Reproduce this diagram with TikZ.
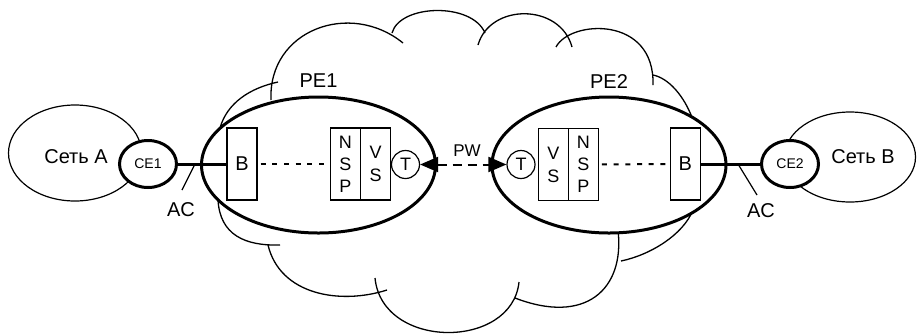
\documentclass[tikz,border=0pt]{standalone}
\usepackage{fontspec}
\setmainfont{Liberation Sans}
\usetikzlibrary{shapes.geometric,arrows.meta}
\begin{document}
\begin{tikzpicture}[x=1pt,y=-1pt,
  thinline/.style={line width=1.2pt},
  cloudline/.style={line width=1.3pt},
  netshape/.style={ellipse,draw,line width=1.2pt,inner sep=0pt},
  ceshape/.style={ellipse,draw,line width=3pt,fill=white,inner sep=0pt,minimum width=57pt,minimum height=47pt,font=\fontsize{14}{16}\selectfont},
  peshape/.style={ellipse,draw,line width=3pt,fill=white,inner sep=0pt,minimum width=234pt,minimum height=136pt},
  lbl/.style={inner sep=0pt,font=\fontsize{20}{24}\selectfont},
  unitbox/.style={rectangle,draw,line width=1.2pt,fill=white,inner sep=0pt,minimum width=30pt,minimum height=72pt,align=center,font=\fontsize{18}{22}\selectfont},
  tnode/.style={circle,draw,line width=1.2pt,fill=white,inner sep=0pt,minimum size=28pt,font=\fontsize{18}{20}\selectfont},
  thickconn/.style={line width=3pt},
  dotconn/.style={line width=2pt,dash pattern=on 5pt off 6.7pt,dash phase=-3pt},
  pwconn/.style={line width=2pt,dash pattern=on 9pt off 6pt,
    {Triangle[length=18pt,width=15pt]}-{Triangle[length=18pt,width=15pt]}}
]
\useasboundingbox (0,0) rectangle (917,333);

% cloud
\draw[cloudline]
  (220,128) .. controls (227,103) and (250,88) .. (278,82)
  (271,100) .. controls (268,30) and (350,0) .. (403,43)
  (392,33) .. controls (400,4) and (472,2) .. (485,33)
  (478,45) .. controls (490,3) and (560,3) .. (572,47)
  (556,47) .. controls (570,20) and (655,15) .. (653,85)
  (653,75) .. controls (668,78) and (684,95) .. (693,120)
  (693,210) .. controls (683,235) and (650,255) .. (621,261)
  (618,230) .. controls (625,290) and (585,325) .. (515,298)
  (519,282) .. controls (512,350) and (382,350) .. (375,278)
  (387,290) .. controls (340,305) and (280,295) .. (268,245)
  (280,245) .. controls (245,246) and (220,235) .. (218,200);

% customer networks
\node[netshape,minimum width=133pt,minimum height=96pt] (neta) at (75,153) {};
\node[lbl] (netalbl) at (76,157) {Сеть A};
\node[netshape,minimum width=131pt,minimum height=90pt] (netb) at (850,157) {};
\node[lbl] (netblbl) at (863,157) {Сеть B};

\node[ceshape] (ce1) at (148,164) {CE1};
\node[ceshape] (ce2) at (790,164) {CE2};

% provider edges
\node[peshape] (pe1) at (318.5,165) {};
\node[peshape] (pe2) at (609,165) {};
\node[lbl] (pe1lbl) at (318.5,81) {PE1};
\node[lbl] (pe2lbl) at (609,82) {PE2};

% inner units
\node[unitbox,font=\fontsize{20}{24}\selectfont] (b1) at (242,164) {B};
\node[unitbox] (nsp1) at (345.4,164) {N\\S\\P};
\node[unitbox,font=\fontsize{18}{23}\selectfont] (vs1) at (375.7,164) {V\\S};
\node[tnode] (t1) at (405.5,164.5) {T};

\node[tnode] (t2) at (521,164.5) {T};
\node[unitbox,font=\fontsize{18}{23}\selectfont] (vs2) at (553.3,164.5) {V\\S};
\node[unitbox] (nsp2) at (583.3,164.5) {N\\S\\P};
\node[unitbox,font=\fontsize{20}{24}\selectfont] (b2) at (685.3,164) {B};

% connectors
\draw[thickconn] (ce1) -- (b1);
\draw[thickconn] (b2) -- (ce2);
\draw[dotconn] (b1) -- (nsp1);
\draw[dotconn] (nsp2) -- (b2);
\draw[pwconn] (t1) -- (t2);
\node[inner sep=0pt,font=\fontsize{17}{20}\selectfont] (pwlbl) at (467,151) {PW};

% attachment circuits
\coordinate (ac1a) at (195,164);
\coordinate (ac1b) at (182,190);
\draw[thinline] (ac1a) -- (ac1b);
\node[lbl] (ac1lbl) at (181,210) {AC};
\coordinate (ac2a) at (738,164);
\coordinate (ac2b) at (757,195);
\draw[thinline] (ac2a) -- (ac2b);
\node[lbl] (ac2lbl) at (761,211) {AC};
\end{tikzpicture}
\end{document}
